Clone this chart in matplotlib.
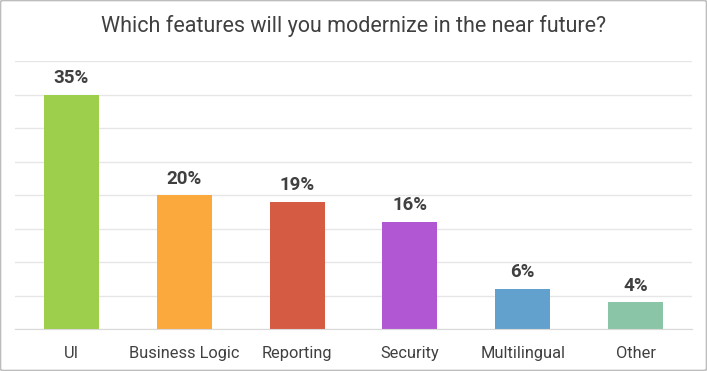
import matplotlib.pyplot as plt
from matplotlib.patches import FancyBboxPatch

plt.rcParams['font.family'] = ['Roboto', 'DejaVu Sans']

# data
features = ["UI", "Business Logic", "Reporting", "Security", "Multilingual", "Other"]
shares = [35, 20, 19, 16, 6, 4]
colors = ["#9DCE4C", "#FBA83C", "#D55B42", "#B257D4", "#62A0CD", "#8AC5A7"]

fig = plt.figure(figsize=(7.07, 3.71), dpi=100)
ax = fig.add_axes([15 / 707, 42 / 371, 677 / 707, 268 / 371])

x = range(len(features))
bars = ax.bar(x, shares, width=0.487, color=colors, zorder=3)

for b, v in zip(bars, shares):
    ax.text(b.get_x() + b.get_width() / 2, v + 1.1, f"{v}%", ha="center", va="bottom",
            fontsize=13.5, fontweight="bold", color="#404040")

ax.set_xlim(-0.5, len(features) - 0.5)
ax.set_ylim(0, 40)
ax.set_yticks(range(0, 45, 5))
ax.yaxis.grid(True, color="#E6E6E6", linewidth=1, zorder=0)
ax.tick_params(axis="y", left=False, labelleft=False)
ax.tick_params(axis="x", length=0, pad=12, labelsize=11.8, labelcolor="#404040")
ax.set_xticks(list(x))
ax.set_xticklabels(features)
for s in ["top", "right", "left"]:
    ax.spines[s].set_visible(False)
ax.spines["bottom"].set_color("#D9D9D9")
ax.spines["bottom"].set_zorder(4)

fig.text(0.5, 1 - 26 / 371, "Which features will you modernize in the near future?",
         ha="center", va="center", fontsize=15.5, color="#404040")

# rounded frame around chart
frame = FancyBboxPatch((0.5 / 707, 0.5 / 371), 1 - 1 / 707, 1 - 1 / 371,
                       boxstyle="round,pad=0,rounding_size=0.004",
                       transform=fig.transFigure, fill=False,
                       edgecolor="#BDBDBD", linewidth=1.2)
fig.patches.append(frame)

fig.savefig("out.png", dpi=100)
